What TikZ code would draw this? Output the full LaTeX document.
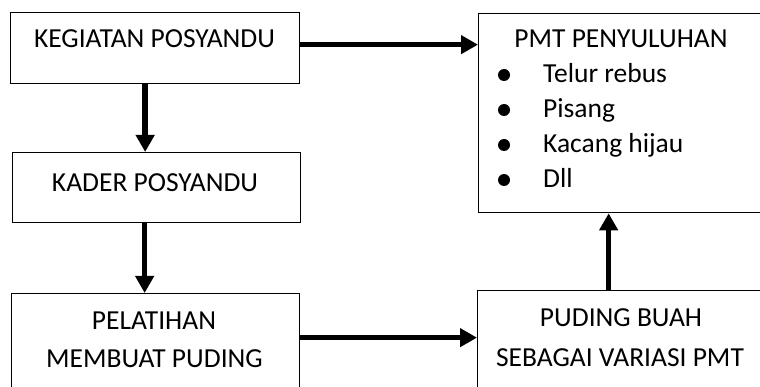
\documentclass[tikz,border=0pt]{standalone}
\usepackage{fontspec}
\setmainfont{Carlito}
\usetikzlibrary{arrows.meta, positioning}

\begin{document}
\begin{tikzpicture}[x=1pt, y=-1pt, font=\fontsize{27.5}{33}\selectfont,
    kotak/.style={draw, line width=1.3pt, inner sep=0pt, anchor=north west},
    teks/.style={anchor=base, inner sep=0pt},
    panah/.style={line width=5.5pt, -{Triangle[width=18pt, length=17pt]}}]

    % --- Bidang gambar ---
    \useasboundingbox (0,0) rectangle (760,387);
    \clip (0,0) rectangle (760,387);

    % --- Kotak kiri ---
    \node[kotak, minimum width=289, minimum height=71] (kegiatan) at (10,12) {};
    \node[kotak, minimum width=288, minimum height=70] (kader) at (12,152) {};
    \node[kotak, minimum width=288, minimum height=110] (pelatihan) at (11,293) {};

    % --- Kotak kanan ---
    \node[kotak, minimum width=286, minimum height=199] (pmt) at (478,13) {};
    \node[kotak, minimum width=286, minimum height=110] (puding) at (477,290) {};

    % --- Teks dalam kotak ---
    \node[teks] (tkegiatan) at (154.5,48) {KEGIATAN POSYANDU};
    \node[teks] (tkader) at (155,192) {KADER POSYANDU};
    \node[teks] (tpelatihan) at (154,329) {PELATIHAN};
    \node[teks] (tmembuat) at (154.5,367) {MEMBUAT PUDING};
    \node[teks] (tpuding) at (621,326) {PUDING BUAH};
    \node[teks] (tvariasi) at (620,366) {SEBAGAI VARIASI PMT};
    \node[teks] (tpmt) at (621,48) {PMT PENYULUHAN};

    % Daftar PMT
    \foreach \isi/\y [count=\i] in {Telur rebus/83, Pisang/118, Kacang hijau/153, Dll/188} {
        \node[teks, anchor=base west] (item\i) at (543,\y) {\isi};
        \fill (504,\y-8) circle (6pt);
    }

    % --- Panah ---
    \draw[panah] ([yshift=3.5]kegiatan.east) -- ([yshift=3.5]kegiatan.east -| pmt.west);
    \draw[panah] ([xshift=-10]kegiatan.south) -- ([xshift=-10]kegiatan.south |- kader.north);
    \draw[panah] ([xshift=-12]kader.south) -- ([xshift=-12]kader.south |- pelatihan.north);
    \draw[panah] ([yshift=11]pelatihan.east) -- ([yshift=11]pelatihan.east -| puding.west);
    \draw[panah] ([xshift=-12]puding.north) -- ([xshift=-12]puding.north |- pmt.south);

\end{tikzpicture}
\end{document}
